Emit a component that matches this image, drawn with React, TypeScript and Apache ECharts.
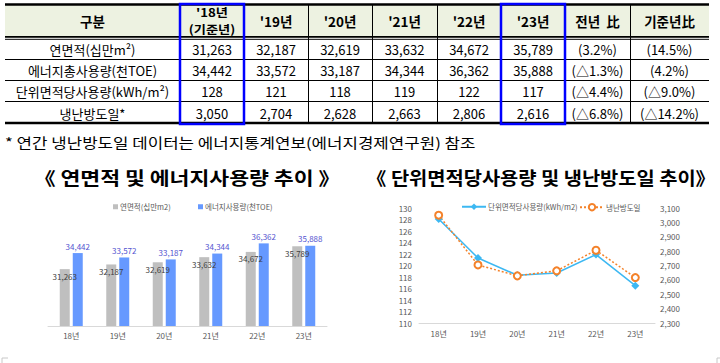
import React, { useEffect, useRef } from "react";
import * as echarts from "echarts";

// ---------- data ----------
const years = ["18년", "19년", "20년", "21년", "22년", "23년"];
const floorArea = [31263, 32187, 32619, 33632, 34672, 35789];
const energyUse = [34442, 33572, 33187, 34344, 36362, 35888];
const unitUseChart = [128.1, 121.3, 118.3, 118.7, 121.9, 116.5];
const unitUseTable = [128, 121, 118, 119, 122, 117];
const degreeDays = [3050, 2704, 2628, 2663, 2806, 2616];

const tableHeaders = ["구분", "'18년\n(기준년)", "'19년", "'20년", "'21년", "'22년", "'23년", "전년  比", "기준년比"];
const rowLabels = ["연면적(십만m²)", "에너지총사용량(천TOE)", "단위면적당사용량(kWh/m²)", "냉난방도일*"];
const yoyChange = ["(3.2%)", "(△1.3%)", "(△4.4%)", "(△6.8%)"];
const baseChange = ["(14.5%)", "(4.2%)", "(△9.0%)", "(△14.2%)"];

const noteText = "* 연간 냉난방도일 데이터는 에너지통계연보(에너지경제연구원) 참조";
const title1 = "《 연면적 및 에너지사용량 추이 》";
const title2 = "《 단위면적당사용량 및 냉난방도일 추이》";
const barNames = ["연면적(십만m2)", "에너지사용량(천TOE)"];
const lineNames = ["단위면적당사용량(kWh/m2)", "냉난방도일"];

const FONT = '"Noto Sans CJK KR", "Noto Sans", sans-serif';
const fmt = (v: number) => v.toLocaleString("en-US");

function buildTable(): any[] {
  const els: any[] = [];
  const colX = [5, 180, 244, 308, 372, 437, 501, 565, 630, 709];
  const rowY = [4, 38, 59, 80, 101, 123];
  const left = colX[0];
  const right = colX[colX.length - 1];
  els.push({ type: "rect", shape: { x: left, y: rowY[0], width: right - left, height: rowY[1] - rowY[0] }, style: { fill: "#EDF2E1" } });
  for (let i = 1; i < colX.length - 1; i++) {
    els.push({ type: "line", shape: { x1: colX[i] + 0.5, y1: rowY[0], x2: colX[i] + 0.5, y2: rowY[5] }, style: { stroke: "#000", lineWidth: 1 } });
  }
  els.push({ type: "line", shape: { x1: left, y1: 4.5, x2: right, y2: 4.5 }, style: { stroke: "#000", lineWidth: 2.5 } });
  els.push({ type: "line", shape: { x1: left, y1: 36.8, x2: right, y2: 36.8 }, style: { stroke: "#000", lineWidth: 1.8 } });
  els.push({ type: "line", shape: { x1: left, y1: 39.3, x2: right, y2: 39.3 }, style: { stroke: "#000", lineWidth: 1 } });
  for (let r = 2; r <= 4; r++) {
    els.push({ type: "line", shape: { x1: left, y1: rowY[r] + 0.5, x2: right, y2: rowY[r] + 0.5 }, style: { stroke: "#000", lineWidth: 1 } });
  }
  els.push({ type: "line", shape: { x1: left, y1: 123, x2: right, y2: 123 }, style: { stroke: "#000", lineWidth: 2.5 } });
  tableHeaders.forEach((h, i) => {
    const cx = (colX[i] + colX[i + 1]) / 2;
    const lines = h.split("\n");
    const multi = lines.length > 1;
    const step = 17.5;
    const y0 = 21 - ((lines.length - 1) * step) / 2;
    lines.forEach((ln, k) => {
      els.push({
        type: "text", x: cx, y: y0 + k * step, scaleX: multi ? 1.15 : 1,
        style: { text: ln, fill: "#000", font: `bold ${multi ? 11.5 : 13.5}px ${FONT}`, align: "center", verticalAlign: "middle" },
      });
    });
  });
  const rows: string[][] = [
    [rowLabels[0], ...floorArea.map(fmt), yoyChange[0], baseChange[0]],
    [rowLabels[1], ...energyUse.map(fmt), yoyChange[1], baseChange[1]],
    [rowLabels[2], ...unitUseTable.map(fmt), yoyChange[2], baseChange[2]],
    [rowLabels[3], ...degreeDays.map(fmt), yoyChange[3], baseChange[3]],
  ];
  rows.forEach((row, r) => {
    const cy = (rowY[r + 1] + rowY[r + 2]) / 2 + 1;
    row.forEach((t, i) => {
      const cx = (colX[i] + colX[i + 1]) / 2;
      els.push({
        type: "text", x: cx, y: cy,
        style: { text: t, fill: "#000", font: `13px ${FONT}`, align: "center", verticalAlign: "middle" },
      });
    });
  });
  [[180, 244], [501, 565]].forEach(([a, b]) => {
    els.push({ type: "rect", shape: { x: a, y: 4, width: b - a, height: 120 }, style: { fill: "none", stroke: "#0000FF", lineWidth: 2.5 } });
  });
  return els;
}

export default function App() {
  const ref = useRef<HTMLDivElement>(null);
  useEffect(() => {
    document.body.style.margin = "0";
    if (!ref.current) return;
    const chart = echarts.init(ref.current, null, { renderer: "svg" });
    const axisLabelStyle = { color: "#595959", fontSize: 8, fontFamily: FONT };
    const legendText = { color: "#595959", fontSize: 7.5, fontFamily: FONT };
    const option: any = {
      animation: false,
      backgroundColor: "#fff",
      textStyle: { fontFamily: FONT },
      graphic: [
        ...buildTable(),
        { type: "text", x: 5, y: 142, scaleX: 1.2, style: { text: noteText, fill: "#000", font: `14px ${FONT}`, verticalAlign: "middle" } },
        { type: "text", x: 187, y: 177, scaleX: 1.2, style: { text: title1, fill: "#000", font: `bold 18px ${FONT}`, align: "center", verticalAlign: "middle" } },
        { type: "text", x: 541, y: 177, scaleX: 1.1, style: { text: title2, fill: "#000", font: `bold 18px ${FONT}`, align: "center", verticalAlign: "middle" } },
        { type: "polyline", shape: { points: [[2, 363], [2, 358], [8, 358]] }, style: { stroke: "#C8C8C8", lineWidth: 1, fill: "none" } },
        { type: "polyline", shape: { points: [[717, 363], [717, 358], [720, 358]] }, style: { stroke: "#C8C8C8", lineWidth: 1, fill: "none" } },
      ],
      legend: [
        { left: 108, top: 198, itemWidth: 5, itemHeight: 5, icon: "rect", data: [barNames[0]], textStyle: { ...legendText, padding: [0, 0, 0, -3] } },
        { left: 193, top: 198, itemWidth: 5, itemHeight: 5, icon: "rect", data: [barNames[1]], textStyle: { ...legendText, padding: [0, 0, 0, -3] } },
        { left: 456, top: 198, itemWidth: 24, itemHeight: 8, data: [lineNames[0]], textStyle: { ...legendText, padding: [0, 0, 0, -3] } },
        { left: 574, top: 198, itemWidth: 24, itemHeight: 8, data: [lineNames[1]], textStyle: { ...legendText, padding: [0, 0, 0, -3] } },
      ],
      grid: [
        { left: 48, top: 225, width: 279, height: 101 },
        { left: 419, top: 208, width: 236, height: 115 },
      ],
      xAxis: [
        {
          type: "category", gridIndex: 0, data: years,
          axisLine: { lineStyle: { color: "#D9D9D9" } }, axisTick: { show: false },
          axisLabel: { ...axisLabelStyle, margin: 5 },
        },
        {
          type: "category", gridIndex: 1, data: years,
          axisLine: { lineStyle: { color: "#D9D9D9" } }, axisTick: { show: false },
          axisLabel: { ...axisLabelStyle, margin: 6 },
        },
      ],
      yAxis: [
        { type: "value", gridIndex: 0, min: 20000, max: 40000, show: false, splitLine: { show: false } },
        {
          type: "value", gridIndex: 1, min: 110, max: 130, interval: 2,
          axisLine: { show: false }, axisTick: { show: false }, splitLine: { show: false },
          axisLabel: { ...axisLabelStyle, margin: 7 },
        },
        {
          type: "value", gridIndex: 1, position: "right", min: 2300, max: 3100, interval: 100,
          axisLine: { show: false }, axisTick: { show: false }, splitLine: { show: false },
          axisLabel: { ...axisLabelStyle, margin: 5, formatter: (v: number) => fmt(v) },
        },
      ],
      series: [
        {
          name: barNames[0], type: "bar", xAxisIndex: 0, yAxisIndex: 0, data: floorArea,
          barWidth: 10, barGap: "30%", itemStyle: { color: "#BFBFBF" },
          label: { show: true, position: "insideTop", distance: 3, color: "#404040", fontSize: 8, fontFamily: FONT, formatter: (p: any) => fmt(p.value) },
        },
        {
          name: barNames[1], type: "bar", xAxisIndex: 0, yAxisIndex: 0, data: energyUse,
          barWidth: 10, itemStyle: { color: "#6699FF" },
          label: { show: true, position: "top", distance: 3, color: "#5353D0", fontSize: 8, fontFamily: FONT, formatter: (p: any) => fmt(p.value) },
        },
        {
          name: lineNames[0], type: "line", xAxisIndex: 1, yAxisIndex: 1, data: unitUseChart,
          symbol: "diamond", symbolSize: 8, color: "#3DB8F2",
          lineStyle: { width: 1.5, color: "#3DB8F2" }, itemStyle: { color: "#3DB8F2" },
        },
        {
          name: lineNames[1], type: "line", xAxisIndex: 1, yAxisIndex: 2, data: degreeDays,
          symbol: "circle", symbolSize: 7, color: "#F4822A",
          lineStyle: { width: 1.5, type: [2, 2], color: "#F4822A" },
          itemStyle: { color: "#fff", borderColor: "#F4822A", borderWidth: 2 },
        },
      ],
    };
    chart.setOption(option);
    return () => chart.dispose();
  }, []);
  return <div ref={ref} style={{ position: "absolute", left: 0, top: 0, width: 720, height: 363, background: "#fff" }} />;
}
